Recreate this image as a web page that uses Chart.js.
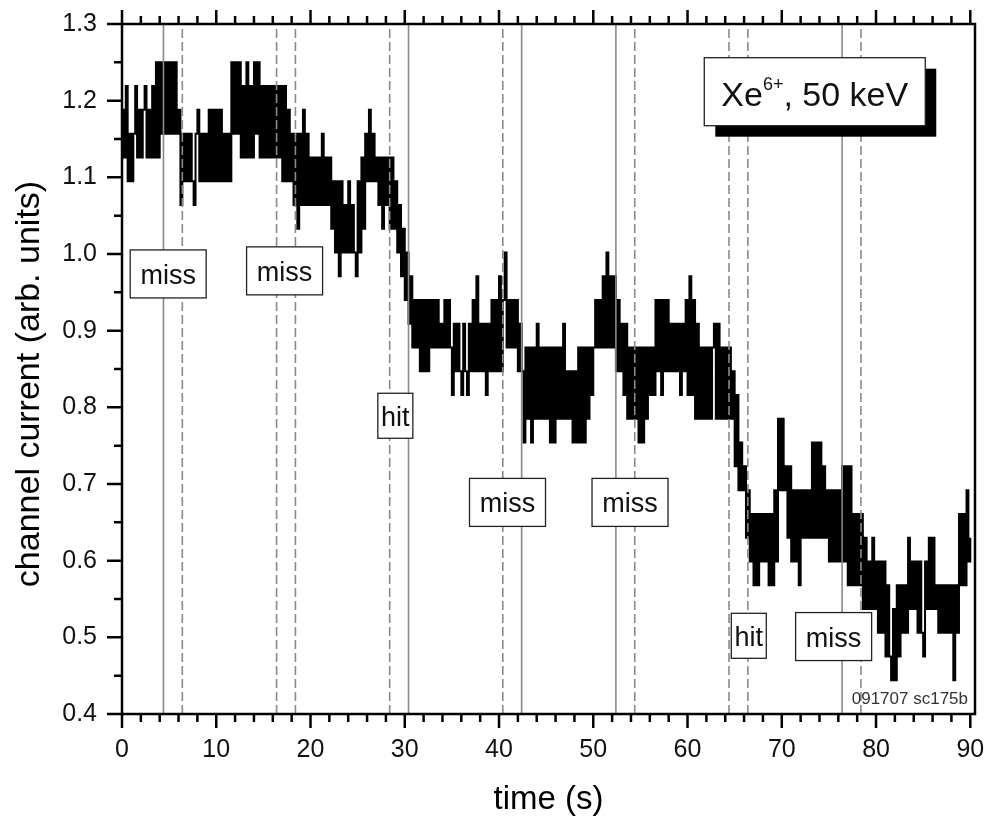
<!DOCTYPE html>
<html>
<head>
<meta charset="utf-8">
<script src="https://cdn.jsdelivr.net/npm/chart.js@4.4.0/dist/chart.umd.min.js"></script>
<style>
  html, body { margin: 0; padding: 0; background: #fff; }
  canvas { display: block; }
</style>
</head>
<body>
<canvas id="myChart" width="988" height="827"></canvas>
<script>
// channel current, one sample every 0.2 s, one array per 10 s of the record
var sampleStep = 0.2;

var current0to10 = [
  1.188, 1.126, 1.219, 1.095, 1.157, 1.095, 1.157, 1.219, 1.126, 1.188,
  1.126, 1.188, 1.219, 1.126, 1.188, 1.126, 1.219, 1.126, 1.250, 1.126,
  1.250, 1.157, 1.250, 1.157, 1.250, 1.157, 1.250, 1.157, 1.250, 1.157,
  1.188, 1.064, 1.157, 1.095, 1.157, 1.095, 1.157, 1.095, 1.064, 1.157,
  1.188, 1.095, 1.157, 1.095, 1.157, 1.095, 1.188, 1.095, 1.188, 1.095
];
var current10to20 = [
  1.188, 1.095, 1.188, 1.095, 1.157, 1.095, 1.157, 1.095, 1.250, 1.157,
  1.250, 1.157, 1.250, 1.126, 1.219, 1.126, 1.250, 1.126, 1.219, 1.126,
  1.250, 1.157, 1.250, 1.126, 1.219, 1.126, 1.219, 1.126, 1.219, 1.126,
  1.219, 1.126, 1.219, 1.126, 1.219, 1.095, 1.219, 1.095, 1.188, 1.095,
  1.157, 1.064, 1.157, 1.033, 1.157, 1.064, 1.188, 1.064, 1.157, 1.064
];
var current20to30 = [
  1.126, 1.064, 1.126, 1.064, 1.126, 1.064, 1.157, 1.064, 1.126, 1.064,
  1.126, 1.033, 1.095, 1.002, 1.095, 0.971, 1.095, 1.002, 1.064, 1.002,
  1.095, 1.002, 1.064, 1.002, 0.971, 1.095, 1.002, 1.126, 1.033, 1.157,
  1.095, 1.188, 1.095, 1.157, 1.095, 1.126, 1.064, 1.126, 1.033, 1.126,
  1.064, 1.126, 1.033, 1.126, 1.033, 1.095, 1.002, 1.064, 0.971, 1.033
];
var current30to40 = [
  0.940, 1.002, 0.909, 0.971, 0.878, 0.940, 0.878, 0.940, 0.847, 0.940,
  0.847, 0.940, 0.847, 0.940, 0.878, 0.940, 0.878, 0.940, 0.878, 0.909,
  0.878, 0.940, 0.878, 0.940, 0.878, 0.816, 0.909, 0.847, 0.909, 0.847,
  0.816, 0.909, 0.847, 0.816, 0.909, 0.847, 0.940, 0.847, 0.971, 0.847,
  0.909, 0.847, 0.909, 0.816, 0.909, 0.847, 0.940, 0.847, 0.940, 0.847
];
var current40to50 = [
  0.971, 0.847, 0.940, 1.002, 0.878, 0.940, 0.878, 0.940, 0.878, 0.940,
  0.847, 0.909, 0.847, 0.754, 0.878, 0.785, 0.878, 0.754, 0.878, 0.785,
  0.909, 0.785, 0.878, 0.785, 0.878, 0.785, 0.878, 0.754, 0.878, 0.754,
  0.878, 0.785, 0.878, 0.785, 0.909, 0.785, 0.847, 0.785, 0.847, 0.754,
  0.847, 0.754, 0.878, 0.754, 0.878, 0.754, 0.878, 0.785, 0.878, 0.816
];
var current50to60 = [
  0.878, 0.940, 0.878, 0.940, 0.878, 0.971, 0.878, 1.002, 0.878, 0.971,
  0.878, 0.971, 0.847, 0.940, 0.847, 0.909, 0.816, 0.909, 0.785, 0.878,
  0.785, 0.878, 0.785, 0.878, 0.754, 0.878, 0.754, 0.878, 0.785, 0.878,
  0.816, 0.878, 0.816, 0.940, 0.847, 0.940, 0.816, 0.940, 0.847, 0.940,
  0.847, 0.909, 0.847, 0.909, 0.847, 0.909, 0.816, 0.909, 0.847, 0.940
];
var current60to70 = [
  0.816, 0.971, 0.816, 0.940, 0.785, 0.909, 0.785, 0.878, 0.785, 0.878,
  0.785, 0.878, 0.785, 0.878, 0.909, 0.785, 0.909, 0.785, 0.878, 0.785,
  0.878, 0.785, 0.878, 0.785, 0.847, 0.723, 0.816, 0.692, 0.754, 0.692,
  0.723, 0.630, 0.692, 0.599, 0.661, 0.568, 0.661, 0.568, 0.661, 0.599,
  0.661, 0.599, 0.661, 0.568, 0.661, 0.568, 0.692, 0.599, 0.785, 0.692
];
var current70to80 = [
  0.785, 0.692, 0.723, 0.630, 0.723, 0.599, 0.692, 0.599, 0.692, 0.568,
  0.692, 0.630, 0.692, 0.630, 0.692, 0.630, 0.754, 0.630, 0.754, 0.630,
  0.754, 0.630, 0.723, 0.630, 0.692, 0.599, 0.692, 0.599, 0.692, 0.599,
  0.692, 0.599, 0.723, 0.599, 0.723, 0.568, 0.723, 0.568, 0.661, 0.568,
  0.661, 0.568, 0.661, 0.537, 0.630, 0.537, 0.599, 0.537, 0.630, 0.537
];
var current80to90 = [
  0.599, 0.506, 0.599, 0.506, 0.599, 0.475, 0.568, 0.475, 0.444, 0.537,
  0.444, 0.568, 0.475, 0.568, 0.506, 0.568, 0.506, 0.630, 0.537, 0.599,
  0.537, 0.599, 0.506, 0.599, 0.506, 0.475, 0.599, 0.537, 0.630, 0.537,
  0.630, 0.537, 0.568, 0.506, 0.568, 0.506, 0.568, 0.506, 0.568, 0.506,
  0.568, 0.444, 0.568, 0.506, 0.661, 0.568, 0.661, 0.568, 0.692, 0.599,
  0.630
];

var xTicks = [0, 10, 20, 30, 40, 50, 60, 70, 80, 90];
var yTicks = [0.4, 0.5, 0.6, 0.7, 0.8, 0.9, 1.0, 1.1, 1.2, 1.3];

// window edges of each shot (s), solid or dashed
var markerTimes = [4.4, 6.4, 16.4, 18.4, 28.4, 30.4, 40.4, 42.4, 52.4, 54.4, 64.4, 66.4, 76.4, 78.4];
var markerDashed = [false, true, true, true, true, false, true, false, false, true, true, true, false, true];

var noteTexts = ['miss', 'miss', 'hit', 'miss', 'miss', 'hit', 'miss'];

// where the boxes sit (data units) - layout only
var notePlaces = [
  {t: 4.9, v: 0.974}, {t: 17.25, v: 0.978}, {t: 29.0, v: 0.789},
  {t: 40.9, v: 0.676}, {t: 53.9, v: 0.676}, {t: 66.5, v: 0.502}, {t: 75.5, v: 0.501}
];
var titlePlace = {t: 73.5, v: 1.2117};

var FONT = "'Liberation Sans', Arial, sans-serif";

var allCurrent = [].concat(current0to10, current10to20, current20to30, current30to40,
  current40to50, current50to60, current60to70, current70to80, current80to90);

var tracePoints = allCurrent.map(function(v, i) {
  return {x: Math.round(i * sampleStep * 10) / 10, y: v};
});

var datasets = [{
  data: tracePoints,
  borderColor: '#000',
  borderWidth: 2,
  stepped: true,
  pointRadius: 0,
  fill: false,
  order: 2
}];

markerTimes.forEach(function(t, i) {
  datasets.push({
    data: [{x: t, y: yTicks[0]}, {x: t, y: yTicks[yTicks.length - 1]}],
    borderColor: '#8a8a8a',
    borderWidth: 1.6,
    borderDash: markerDashed[i] ? [9, 4] : [],
    pointRadius: 0,
    fill: false,
    order: 1
  });
});

var decorations = {
  id: 'decorations',
  afterDatasetsDraw: function(chart) {
    var ctx = chart.ctx;
    var xs = chart.scales.x, ys = chart.scales.y, a = chart.chartArea;
    ctx.save();

    // hit / miss boxes
    ctx.font = '27px ' + FONT;
    ctx.textAlign = 'center';
    ctx.textBaseline = 'alphabetic';
    noteTexts.forEach(function(txt, i) {
      var cx = xs.getPixelForValue(notePlaces[i].t);
      var cy = ys.getPixelForValue(notePlaces[i].v);
      var w = txt === 'hit' ? 35 : 76;
      var h = txt === 'hit' ? 45 : 48;
      ctx.fillStyle = '#fff';
      ctx.fillRect(cx - w / 2, cy - h / 2, w, h);
      ctx.strokeStyle = '#222';
      ctx.lineWidth = 1.3;
      ctx.strokeRect(cx - w / 2, cy - h / 2, w, h);
      ctx.fillStyle = '#111';
      ctx.fillText(txt, cx, cy + 10);
    });

    // Xe6+ label with shadow
    var bx = xs.getPixelForValue(titlePlace.t), by = ys.getPixelForValue(titlePlace.v);
    var bw = 221, bh = 68;
    ctx.fillStyle = '#000';
    ctx.fillRect(bx - bw / 2 + 11, by - bh / 2 + 11, bw, bh);
    ctx.fillStyle = '#fff';
    ctx.fillRect(bx - bw / 2, by - bh / 2, bw, bh);
    ctx.strokeStyle = '#222';
    ctx.lineWidth = 1.3;
    ctx.strokeRect(bx - bw / 2, by - bh / 2, bw, bh);

    ctx.textAlign = 'left';
    ctx.font = '34px ' + FONT;
    var w1 = ctx.measureText('Xe').width;
    var w3 = ctx.measureText(', 50 keV').width;
    ctx.font = '18px ' + FONT;
    var w2 = ctx.measureText('6+').width;
    var x0 = bx - (w1 + w2 + w3) / 2;
    var base = by + 14;
    ctx.fillStyle = '#111';
    ctx.font = '34px ' + FONT;
    ctx.fillText('Xe', x0, base);
    ctx.font = '18px ' + FONT;
    ctx.fillText('6+', x0 + w1, base - 16);
    ctx.font = '34px ' + FONT;
    ctx.fillText(', 50 keV', x0 + w1 + w2, base);

    // file tag
    ctx.font = '17px ' + FONT;
    ctx.textAlign = 'right';
    ctx.fillStyle = '#333';
    ctx.fillText('091707 sc175b', a.right - 7, a.bottom - 10);
    ctx.restore();
  },
  afterDraw: function(chart) {
    var ctx = chart.ctx;
    var xs = chart.scales.x, ys = chart.scales.y, a = chart.chartArea;
    ctx.save();
    ctx.strokeStyle = '#000';
    ctx.lineWidth = 2.5;
    ctx.strokeRect(a.left, a.top, a.right - a.left, a.bottom - a.top);

    ctx.beginPath();
    for (var t = 0; t <= 90.001; t += 2) {
      var px = xs.getPixelForValue(t);
      var len = Math.abs(t % 10) < 0.001 ? 14 : 8;
      ctx.moveTo(px, a.bottom); ctx.lineTo(px, a.bottom + len);
      ctx.moveTo(px, a.top); ctx.lineTo(px, a.top - len);
    }
    for (var k = 0; k <= 18; k++) {
      var py = ys.getPixelForValue(0.4 + 0.05 * k);
      var ylen = k % 2 === 0 ? 15 : 8;
      ctx.moveTo(a.left, py); ctx.lineTo(a.left - ylen, py);
    }
    ctx.stroke();

    // y axis title
    ctx.translate(30, 384);
    ctx.rotate(-Math.PI / 2);
    ctx.font = '34px ' + FONT;
    ctx.fillStyle = '#000';
    ctx.textAlign = 'center';
    ctx.textBaseline = 'middle';
    ctx.fillText('channel current (arb. units)', 0, 0);
    ctx.restore();
  }
};

var ctx = document.getElementById('myChart').getContext('2d');
var chart = new Chart(ctx, {
  type: 'line',
  data: { datasets: datasets },
  options: {
    responsive: false,
    animation: false,
    devicePixelRatio: 1,
    layout: { padding: { left: 0, right: 13, top: 24, bottom: 0 } },
    plugins: {
      legend: { display: false },
      tooltip: { enabled: false }
    },
    scales: {
      x: {
        type: 'linear',
        min: 0,
        max: 90.5,
        afterBuildTicks: function(s) { s.ticks = xTicks.map(function(v) { return {value: v}; }); },
        afterFit: function(s) { s.height = 113; s.paddingLeft = 0; s.paddingRight = 0; },
        grid: { display: false, drawTicks: false },
        border: { display: false },
        ticks: {
          padding: 21,
          autoSkip: false,
          maxRotation: 0,
          color: '#111',
          font: { family: FONT, size: 25 },
          callback: function(v) { return String(v); }
        },
        title: {
          display: true,
          text: 'time (s)',
          color: '#000',
          font: { family: FONT, size: 33 },
          padding: { top: 0, bottom: 7 }
        }
      },
      y: {
        type: 'linear',
        min: 0.4,
        max: 1.3,
        afterBuildTicks: function(s) { s.ticks = yTicks.map(function(v) { return {value: v}; }); },
        afterFit: function(s) { s.width = 122; s.paddingTop = 0; s.paddingBottom = 0; },
        grid: { display: false, drawTicks: false },
        border: { display: false },
        ticks: {
          padding: 25,
          autoSkip: false,
          color: '#111',
          font: { family: FONT, size: 25 },
          callback: function(v) { return Number(v).toFixed(1); }
        }
      }
    }
  },
  plugins: [decorations]
});
</script>
</body>
</html>
